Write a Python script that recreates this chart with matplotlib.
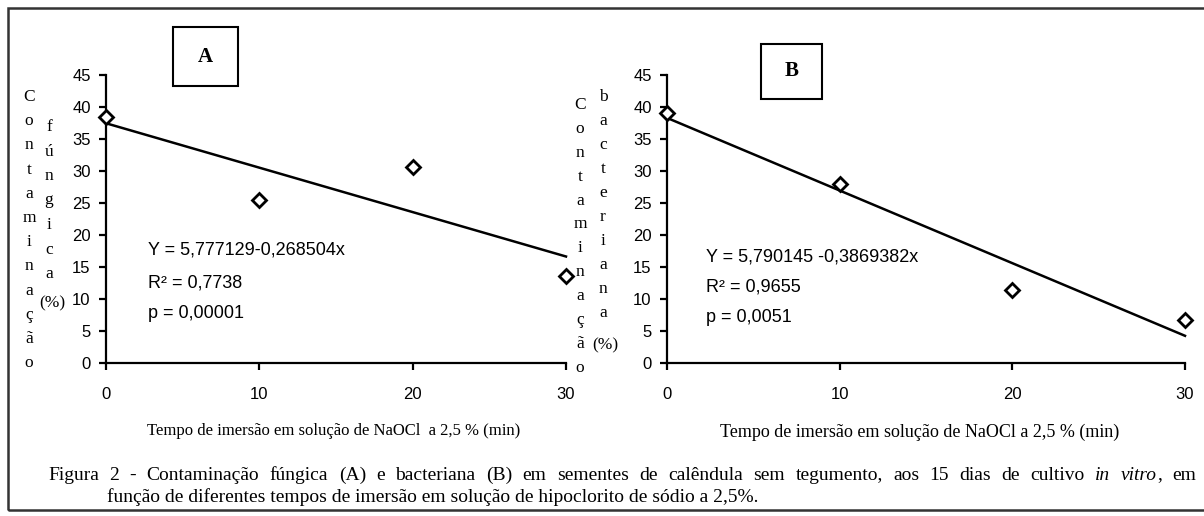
import numpy as np
import matplotlib.pyplot as plt
from matplotlib.patches import Rectangle

# data
tempo = [0, 10, 20, 30]
fungica = [38.5, 25.4, 30.7, 13.6]
bacteriana = [39.0, 28.0, 11.4, 6.7]
xticks = [0, 10, 20, 30]
yticks = [0, 5, 10, 15, 20, 25, 30, 35, 40, 45]

eq_a = ["Y = 5,777129-0,268504x", "R² = 0,7738", "p = 0,00001"]
eq_b = ["Y = 5,790145 -0,3869382x", "R² = 0,9655", "p = 0,0051"]
xlabel_a = "Tempo de imersão em solução de NaOCl  a 2,5 % (min)"
xlabel_b = "Tempo de imersão em solução de NaOCl a 2,5 % (min)"
ylab1 = list("Contaminação")
ylab_a = list("fúngica") + ["(%)"]
ylab_b = list("bacteriana") + ["(%)"]
caption1 = ("Figura 2 - Contaminação fúngica (A) e bacteriana (B) em sementes de calêndula "
            "sem tegumento, aos 15 dias de cultivo")
caption1_it = ["in", "vitro"]
caption1_end = ", em"
caption2 = "função de diferentes tempos de imersão em solução de hipoclorito de sódio a 2,5%."

W, H = 1204, 516
SERIF = ['Liberation Serif', 'DejaVu Serif']
SANS = ['Liberation Sans', 'DejaVu Sans']

fig = plt.figure(figsize=(W / 100, H / 100), dpi=100)


def fx(px):
    return px / W


def fy(py):
    return 1 - py / H


def panel(left, right, y):
    ax = fig.add_axes([fx(left), fy(363), fx(right - left), (363 - 75) / H])
    ax.plot(tempo, y, linestyle='none', marker='D', markersize=7,
            markerfacecolor='white', markeredgecolor='black',
            markeredgewidth=2, clip_on=False, zorder=5)
    b, a = np.polyfit(tempo, y, 1)
    xs = np.array([tempo[0], tempo[-1]])
    ax.plot(xs, a + b * xs, color='black', lw=1.8, clip_on=False)
    ax.set_xlim(0, 30)
    ax.set_ylim(0, 45)
    ax.set_xticks(xticks)
    ax.set_yticks(yticks)
    for s in ['top', 'right']:
        ax.spines[s].set_visible(False)
    for s in ['left', 'bottom']:
        ax.spines[s].set_linewidth(1.6)
    ax.tick_params(direction='out', length=5, width=1.6)
    ax.tick_params(axis='y', pad=6)
    ax.tick_params(axis='x', pad=12)
    for lab in ax.get_xticklabels() + ax.get_yticklabels():
        lab.set_family(SANS)
        lab.set_fontsize(12)
    ax.patch.set_alpha(0)
    return ax


ax_a = panel(106, 566, fungica)
ax_b = panel(667, 1185, bacteriana)


def column(letters, x, y0, step, size=12.5):
    for i, ch in enumerate(letters):
        fig.text(fx(x), fy(y0 + i * step), ch, ha='center', va='center',
                 family=SERIF, fontsize=size)


column(ylab1, 29, 97, 24.2)
column(ylab_a[:-1], 49, 127, 24.5)
fig.text(fx(52), fy(303), ylab_a[-1], ha='center', va='center', family=SERIF, fontsize=12.5)
column(ylab1, 580, 105, 23.9)
column(ylab_b[:-1], 603, 97, 24)
fig.text(fx(605), fy(345), ylab_b[-1], ha='center', va='center', family=SERIF, fontsize=12.5)

for i, t in enumerate(eq_a):
    fig.text(fx(148), fy([250, 283, 313][i]), t, ha='left', va='center',
             family=SANS, fontsize=13)
for i, t in enumerate(eq_b):
    fig.text(fx(706), fy([257, 287, 318][i]), t, ha='left', va='center',
             family=SANS, fontsize=13)

fig.text(fx(334), fy(431), xlabel_a, ha='center', va='center', family=SERIF, fontsize=12)
fig.text(fx(920), fy(432), xlabel_b, ha='center', va='center', family=SERIF, fontsize=13)

# panel letters in boxes
for (x0, y0, x1, y1, lab) in [(173, 27, 238, 86, 'A'), (761, 44, 822, 99, 'B')]:
    fig.add_artist(Rectangle((fx(x0), fy(y1)), fx(x1 - x0), (y1 - y0) / H,
                             transform=fig.transFigure, fill=False,
                             edgecolor='black', lw=1.5))
    fig.text(fx((x0 + x1) / 2), fy((y0 + y1) / 2), lab, ha='center', va='center',
             family=SERIF, fontweight='bold', fontsize=15)

# outer frame
fig.add_artist(Rectangle((fx(8), fy(510)), fx(1230 - 8), (510 - 8) / H,
                         transform=fig.transFigure, fill=False,
                         edgecolor='#333333', lw=1.8, clip_on=False))

# caption, first line justified between x=48 and x=1196
fig.canvas.draw()
r = fig.canvas.get_renderer()
tokens = [(w, 'normal') for w in caption1.split()]
tokens += [(caption1_it[0], 'italic'), (caption1_it[1] + "\x00", 'italic')]
tokens += [(caption1_end.split()[-1], 'normal')]
arts = []
for w, st in tokens:
    if w.endswith("\x00"):
        # italic word followed by upright comma
        t = fig.text(0, fy(475), w[:-1], ha='left', va='center', family=SERIF,
                     style=st, fontsize=14)
        c = fig.text(0, fy(475), ",", ha='left', va='center', family=SERIF, fontsize=14)
        arts.append([t, c])
    else:
        arts.append([fig.text(0, fy(475), w, ha='left', va='center', family=SERIF,
                              style=st, fontsize=14)])
widths = []
for group in arts:
    widths.append(sum(a.get_window_extent(r).width for a in group))
gap = (1196 - 48 - sum(widths)) / (len(arts) - 1)
x = 48
for group, wd in zip(arts, widths):
    xx = x
    for a in group:
        a.set_x(xx / W)
        xx += a.get_window_extent(r).width
    x += wd + gap

fig.text(fx(107), fy(497), caption2, ha='left', va='center', family=SERIF, fontsize=14)

fig.savefig('out.png', dpi=100)
